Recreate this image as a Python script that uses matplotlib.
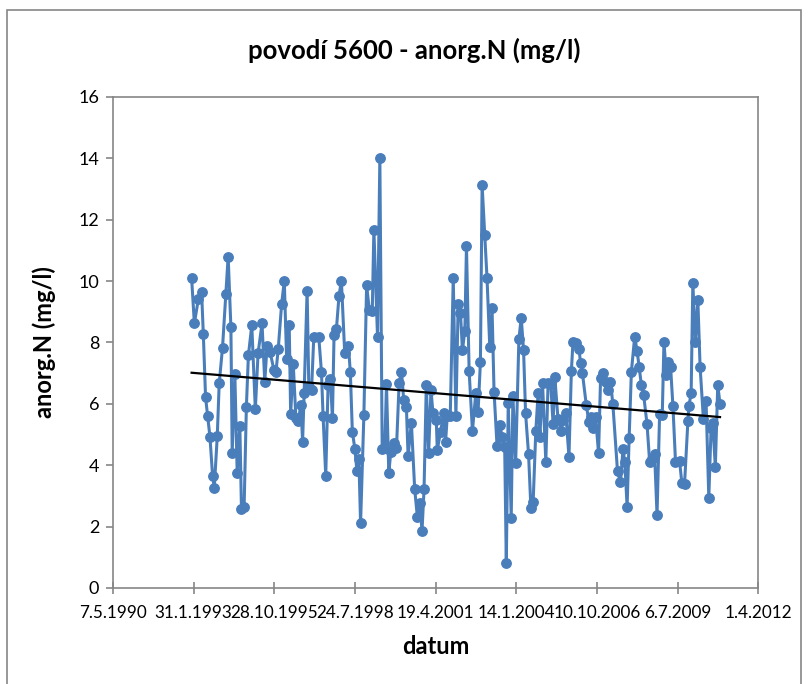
from datetime import date, timedelta

import matplotlib
matplotlib.use("Agg")
import matplotlib.pyplot as plt
from matplotlib.patches import Rectangle
import numpy as np

# Excel day numbers (1 = 1.1.1900)
days = [
    33975, 34009, 34058, 34099, 34120, 34148, 34173, 34202, 34235, 34256,
    34293, 34317, 34358, 34400, 34428, 34462, 34478, 34511, 34540, 34573,
    34593, 34626, 34654, 34679, 34721, 34765, 34799, 34848, 34882, 34910,
    34947, 34996, 35021, 35049, 35091, 35124, 35153, 35185, 35203, 35235,
    35268, 35296, 35330, 35351, 35370, 35407, 35428, 35462, 35490, 35552,
    35585, 35605, 35638, 35667, 35696, 35721, 35741, 35770, 35803, 35832,
    35873, 35919, 35943, 35968, 36000, 36025, 36049, 36070, 36111, 36145,
    36178, 36215, 36235, 36280, 36309, 36338, 36370, 36391, 36420, 36444,
    36482, 36515, 36548, 36577, 36605, 36638, 36659, 36700, 36741, 36774,
    36803, 36832, 36857, 36885, 36914, 36943, 36968, 37009, 37021, 37062,
    37099, 37124, 37145, 37182, 37219, 37252, 37280, 37309, 37333, 37363,
    37383, 37416, 37457, 37499, 37527, 37556, 37577, 37610, 37638, 37672,
    37700, 37725, 37762, 37795, 37827, 37857, 37877, 37901, 37938, 37959,
    37993, 38033, 38062, 38091, 38116, 38153, 38182, 38210, 38243, 38272,
    38293, 38326, 38367, 38395, 38428, 38457, 38478, 38518, 38561, 38580,
    38614, 38654, 38684, 38704, 38746, 38778, 38799, 38820, 38869, 38901,
    38931, 38951, 38984, 39021, 39046, 39074, 39108, 39136, 39169, 39198,
    39256, 39293, 39324, 39346, 39375, 39400, 39428, 39469, 39499, 39524,
    39552, 39580, 39622, 39654, 39688, 39716, 39746, 39778, 39811, 39832,
    39861, 39882, 39914, 39943, 39975, 40025, 40054, 40087, 40129, 40141,
    40169, 40190, 40222, 40252, 40280, 40321, 40354, 40388, 40416, 40437,
    40469, 40499, 40527,
]

# anorg.N (mg/l)
values = [
    10.09, 8.62, 9.41, 9.63, 8.27, 6.21, 5.61, 4.93, 3.65, 3.27,
    4.95, 6.67, 7.83, 9.58, 10.80, 8.49, 4.41, 6.96, 3.74, 5.28,
    2.56, 2.65, 5.91, 7.58, 8.56, 5.82, 7.65, 8.62, 6.72, 7.88,
    7.70, 7.10, 7.05, 7.79, 9.25, 10.01, 7.46, 8.57, 5.67, 7.30,
    5.53, 5.44, 5.96, 4.77, 6.34, 9.69, 6.56, 6.45, 8.19, 8.17,
    7.03, 5.60, 3.66, 6.61, 6.80, 5.53, 8.24, 8.43, 9.53, 10.01,
    7.67, 7.90, 7.03, 5.09, 4.52, 3.81, 4.19, 2.11, 5.64, 9.87,
    9.06, 9.03, 11.67, 8.19, 14.00, 4.52, 4.55, 6.64, 3.74, 4.42,
    4.74, 4.55, 6.67, 7.05, 6.13, 5.91, 4.30, 5.39, 3.22, 2.32,
    2.76, 1.86, 3.22, 6.61, 4.39, 6.45, 5.69, 5.47, 4.50, 5.09,
    5.69, 4.77, 5.60, 5.62, 10.09, 5.60, 9.24, 8.95, 7.75, 8.38,
    11.14, 7.07, 5.12, 6.36, 5.74, 7.37, 13.13, 11.50, 10.09, 7.86,
    9.13, 6.40, 4.63, 5.31, 4.93, 4.60, 0.80, 6.04, 2.29, 6.26,
    4.08, 8.10, 8.81, 7.75, 5.69, 4.36, 2.60, 2.81, 5.13, 6.36,
    4.91, 6.69, 4.12, 6.67, 6.65, 5.34, 6.89, 5.50, 5.13, 5.47,
    5.71, 4.28, 7.08, 8.03, 7.99, 7.78, 7.32, 7.02, 5.96, 5.42,
    5.58, 5.20, 5.58, 4.39, 6.83, 7.02, 6.70, 6.45, 6.72, 6.00,
    3.80, 3.45, 4.52, 4.12, 2.65, 4.88, 7.05, 8.19, 7.72, 7.21,
    6.61, 6.29, 5.34, 4.12, 4.20, 4.36, 2.38, 5.67, 5.64, 8.03,
    6.94, 7.37, 7.21, 5.93, 4.12, 4.15, 3.41, 3.38, 5.45, 5.93,
    6.34, 9.93, 8.03, 9.38, 7.21, 5.50, 6.10, 2.94, 5.20, 5.37,
    3.95, 6.61, 6.00,
]

x_ticks = list(range(33000, 41001, 1000))
y_ticks = list(range(0, 17, 2))

BLUE = "#4A7EBB"
GREY = "#868686"


def excel_label(serial):
    d = date(1899, 12, 30) + timedelta(days=serial)
    return "{}.{}.{}".format(d.day, d.month, d.year)


def main():
    plt.rcParams["font.family"] = ["Lato", "DejaVu Sans"]

    fig = plt.figure(figsize=(8.1, 6.84), dpi=100)
    fig.patches.append(Rectangle((0.009, -0.01), 0.98, 0.995, transform=fig.transFigure,
                                 fill=False, edgecolor=GREY, linewidth=1.2))

    ax = fig.add_axes([0.1395, 0.1404, 0.7965, 0.7178])
    ax.plot(days, values, color=BLUE, linewidth=2.2, marker="o",
            markersize=6.8, markerfacecolor=BLUE, markeredgecolor=BLUE, zorder=2)

    # linear trend line like the Excel one
    k, q = np.polyfit(days, values, 1)
    tx = np.array([days[0], days[-1]])
    ax.plot(tx, k * tx + q, color="black", linewidth=1.6, zorder=3)

    ax.set_xlim(33000, 41000)
    ax.set_ylim(0, 16)
    ax.set_xticks(x_ticks)
    ax.set_xticklabels([excel_label(t) for t in x_ticks], fontsize=12.3)
    ax.set_yticks(y_ticks)
    ax.set_yticklabels([str(t) for t in y_ticks], fontsize=13)

    for side in ax.spines.values():
        side.set_color(GREY)
        side.set_linewidth(1.2)
    ax.tick_params(axis="x", direction="inout", length=9, color=GREY, width=1.2, pad=8)
    ax.tick_params(axis="y", direction="out", length=5, color=GREY, width=1.2, pad=5)

    ax.set_xlabel("datum", fontsize=17, fontweight="bold", labelpad=10)
    ax.set_ylabel("anorg.N (mg/l)", fontsize=17, fontweight="bold", labelpad=16)
    fig.text(0.512, 0.926, "povodí 5600 - anorg.N (mg/l)", ha="center", va="center",
             fontsize=18.5, fontweight="bold")

    fig.savefig("out.png", dpi=100)


if __name__ == "__main__":
    main()
